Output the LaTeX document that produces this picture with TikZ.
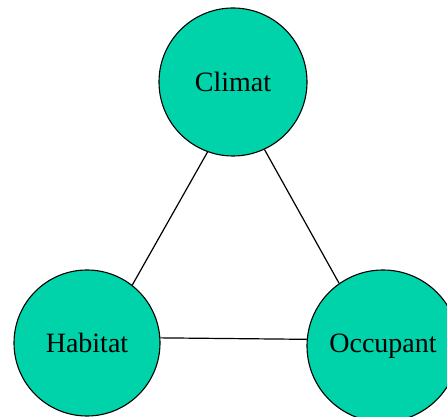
\documentclass[tikz,border=0pt]{standalone}
\usepackage{fontspec}
\setmainfont{Liberation Serif}
\definecolor{teal}{RGB}{0,210,170}

\begin{document}
\begin{tikzpicture}
  [x=1pt,y=1pt,every node/.style={circle,draw,line width=1.1pt,fill=teal,minimum size=148pt,inner sep=0pt,font=\fontsize{28}{30}\selectfont}]
  \useasboundingbox (0,0) rectangle (447,417);
  \node (climat)   at (233,335) {Climat};
  \node (habitat)  at (87,74)   [minimum size=146pt] {Habitat};
  \node (occupant) at (383,71)  [minimum size=152pt] {Occupant};

\foreach \from/\to in
{climat.250/habitat.52, climat.295/occupant.125, habitat.4/occupant.175}
    \draw[line width=1.2pt] (\from) -- (\to);
\end{tikzpicture}
\end{document}
